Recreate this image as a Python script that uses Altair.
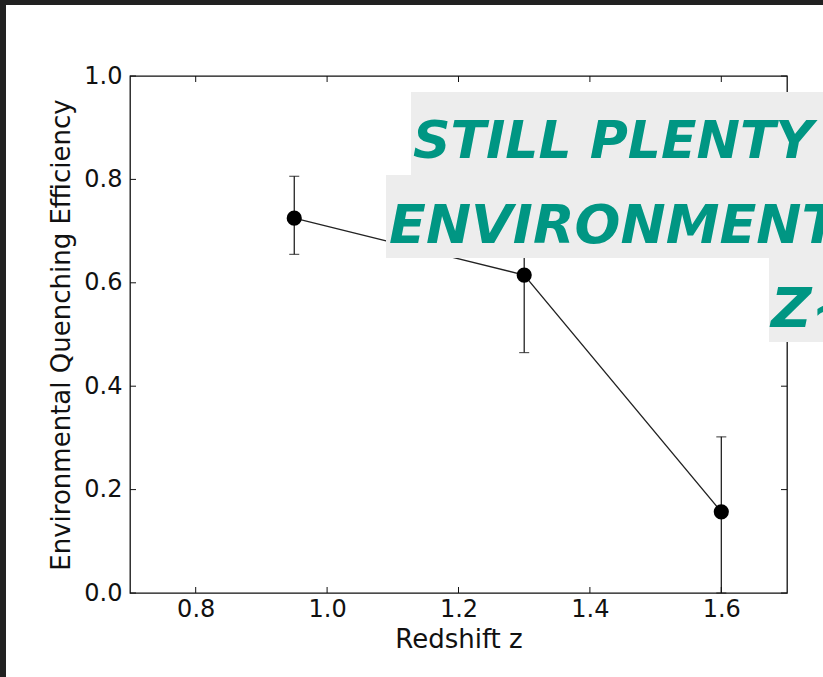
import altair as alt
import pandas as pd

# Environmental quenching efficiency versus redshift
redshift = [0.95, 1.3, 1.6]
efficiency = [0.725, 0.615, 0.157]
err_low = [0.655, 0.465, 0.0]
err_high = [0.806, 0.72, 0.302]

x_ticks = [0.8, 1.0, 1.2, 1.4, 1.6]
y_ticks = [0.0, 0.2, 0.4, 0.6, 0.8, 1.0]

note_lines = ["STILL PLENTY OF", "ENVIRONMENTAL", "Z~1.6"]

W, H = 657, 517
PAD_L, PAD_T, PAD_R, PAD_B = 130, 76, 36, 84
FONT = "DejaVu Sans"

df = pd.DataFrame({"z": redshift, "eff": efficiency, "lo": err_low, "hi": err_high})
xt = pd.DataFrame({"t": x_ticks})
yt = pd.DataFrame({"t": y_ticks})
one = alt.Data(values=[{"k": 0}])

x_scale = alt.Scale(domain=[0.7, 1.7], nice=False, zero=False)
y_scale = alt.Scale(domain=[0.0, 1.0], nice=False, zero=False)
x_axis = alt.Axis(values=x_ticks, format=".1f", title="Redshift z", ticks=False, domain=False,
                  grid=False, labelPadding=4, titlePadding=5)
y_axis = alt.Axis(values=y_ticks, format=".1f", title="Environmental Quenching Efficiency",
                  ticks=False, domain=False, grid=False, labelPadding=8, titlePadding=9)


def X(field):
    return alt.X(f"{field}:Q", scale=x_scale, axis=x_axis)


def Y(field):
    return alt.Y(f"{field}:Q", scale=y_scale, axis=y_axis)


# dark edges of the slide
edge_top = alt.Chart(one).mark_rect(color="#212121").encode(
    x=alt.value(-PAD_L), x2=alt.value(W + PAD_R), y=alt.value(-PAD_T), y2=alt.value(-PAD_T + 5))
edge_left = alt.Chart(one).mark_rect(color="#212121").encode(
    x=alt.value(-PAD_L), x2=alt.value(-PAD_L + 6), y=alt.value(-PAD_T), y2=alt.value(H + PAD_B))

# inward-pointing ticks on all four sides
tick_style = dict(color="#111111", strokeWidth=1)
ticks_bottom = alt.Chart(xt).mark_rule(**tick_style).encode(x=X("t"), y=alt.value(H), y2=alt.value(H - 6))
ticks_top = alt.Chart(xt).mark_rule(**tick_style).encode(x=X("t"), y=alt.value(0), y2=alt.value(6))
ticks_left = alt.Chart(yt).mark_rule(**tick_style).encode(y=Y("t"), x=alt.value(0), x2=alt.value(6))
ticks_right = alt.Chart(yt).mark_rule(**tick_style).encode(y=Y("t"), x=alt.value(W), x2=alt.value(W - 6))

base = alt.Chart(df)
err_bars = base.mark_rule(color="#111111", strokeWidth=1.2).encode(x=X("z"), y=Y("lo"), y2="hi")
caps_lo = base.mark_tick(color="#111111", orient="horizontal", size=10, thickness=1.2).encode(x=X("z"), y=Y("lo"))
caps_hi = base.mark_tick(color="#111111", orient="horizontal", size=10, thickness=1.2).encode(x=X("z"), y=Y("hi"))
line = base.mark_line(color="#222222", strokeWidth=1.3).encode(x=X("z"), y=Y("eff"))
points = base.mark_circle(color="black", size=230, opacity=1).encode(x=X("z"), y=Y("eff"))

# highlighted note boxes
box_fill = "#EDEDED"
boxes = [
    (281, 16, 99),
    (256, 99, 182),
    (639, 182, 266),
]
box_layers = [
    alt.Chart(one).mark_rect(color=box_fill).encode(
        x=alt.value(x0), x2=alt.value(W + PAD_R + 10), y=alt.value(y0), y2=alt.value(y1))
    for x0, y0, y1 in boxes
]
text_pos = [(283, 82, 52), (259, 167, 54), (641, 251, 56)]
text_layers = [
    alt.Chart(one).mark_text(text=t, color="#009683", font=FONT, fontWeight="bold", fontStyle="italic",
                             fontSize=fs, align="left", baseline="alphabetic").encode(
        x=alt.value(px), y=alt.value(py))
    for t, (px, py, fs) in zip(note_lines, text_pos)
]

chart = alt.layer(
    edge_top, edge_left,
    ticks_bottom, ticks_top, ticks_left, ticks_right,
    err_bars, caps_lo, caps_hi, line, points,
    *box_layers, *text_layers,
).properties(
    width=W, height=H,
    autosize=alt.AutoSizeParams(type="none"),
    padding={"left": PAD_L, "top": PAD_T, "right": PAD_R, "bottom": PAD_B},
    background="white",
).configure_view(
    stroke="#111111", strokeWidth=1.3,
).configure_axis(
    labelFont=FONT, titleFont=FONT, labelFontSize=24, titleFontSize=26,
    labelColor="#111111", titleColor="#111111", titleFontWeight="normal",
)

chart.save("out.html", embed_options={"renderer": "svg", "actions": False})
